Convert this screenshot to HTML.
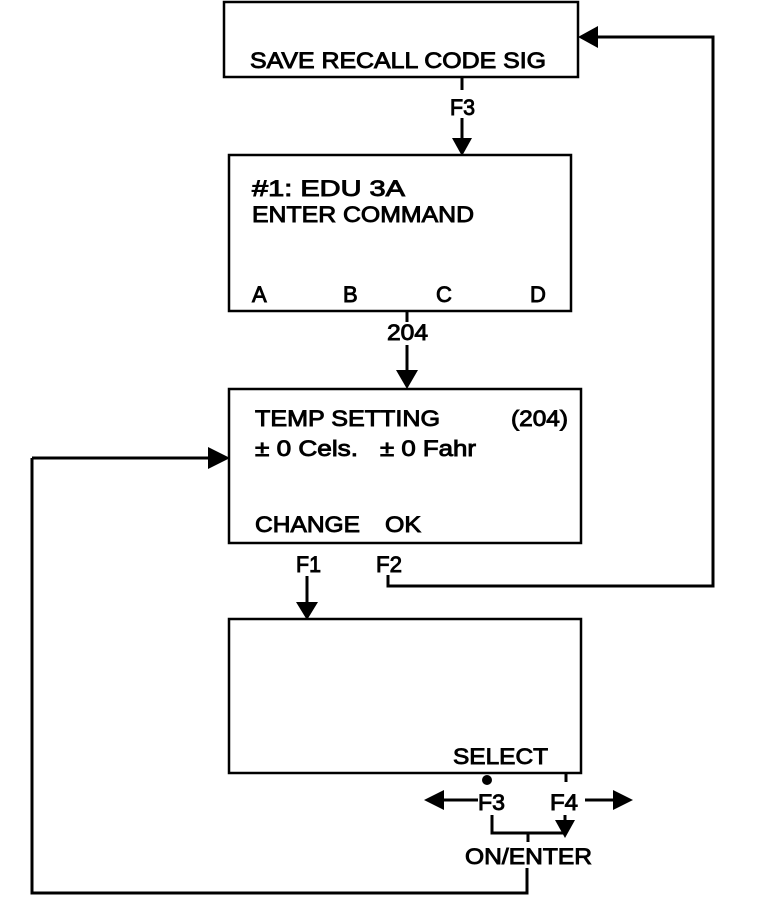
<!DOCTYPE html>
<html><head><meta charset="utf-8"><style>
html,body{margin:0;padding:0;background:#fff}
svg{display:block}
text{font-family:"Liberation Sans",Arial,sans-serif;font-size:22px;fill:#000;stroke:#000;stroke-width:0.9}
</style></head><body>
<svg width="768" height="912" viewBox="0 0 768 912" xmlns="http://www.w3.org/2000/svg">
<g fill="none" stroke="#000" stroke-width="2.5">
<rect x="224" y="2" width="354" height="75"/>
<rect x="229" y="155" width="342" height="156"/>
<rect x="229" y="389" width="352" height="154"/>
<rect x="229" y="619" width="352" height="154"/>
</g>
<g fill="none" stroke="#000" stroke-width="3">
<line x1="462" y1="77" x2="462" y2="90"/>
<line x1="462" y1="118" x2="462" y2="140"/>
<line x1="407" y1="311" x2="407" y2="322"/>
<line x1="407" y1="345" x2="407" y2="372"/>
<polyline points="32,458 32,893 527,893 527,868"/>
<line x1="32" y1="458" x2="210" y2="458"/>
<polyline points="388,575 388,586 713,586 713,37 596,37"/>
<line x1="307" y1="576" x2="307" y2="604"/>
<line x1="478" y1="800" x2="442" y2="800"/>
<line x1="585" y1="800" x2="615" y2="800"/>
<line x1="566" y1="773" x2="566" y2="782"/>
<polyline points="492,815 492,833 565,833"/>
<line x1="565" y1="815" x2="565" y2="822"/>
<line x1="528" y1="833" x2="528" y2="842"/>
</g>
<g fill="#000">
<polygon points="452,138 472,138 462,156"/>
<polygon points="396,370 418,370 407,389"/>
<polygon points="208,447 208,469 230,458"/>
<polygon points="598,26 598,48 578,37"/>
<polygon points="296,602 318,602 307,620"/>
<polygon points="444,790 444,810 424,800"/>
<polygon points="613,790 613,810 633,800"/>
<polygon points="555,820 575,820 565,838"/>
<circle cx="487" cy="780" r="5"/>
</g>
<text x="250" y="68" textLength="296" lengthAdjust="spacingAndGlyphs">SAVE RECALL CODE SIG</text>
<text x="450" y="115" textLength="25" lengthAdjust="spacingAndGlyphs">F3</text>
<text x="252" y="196" textLength="153" lengthAdjust="spacingAndGlyphs">#1: EDU 3A</text>
<text x="252" y="222" textLength="222" lengthAdjust="spacingAndGlyphs">ENTER COMMAND</text>
<text x="252" y="302">A</text>
<text x="343" y="302">B</text>
<text x="436" y="302">C</text>
<text x="530" y="302">D</text>
<text x="387" y="340" textLength="41" lengthAdjust="spacingAndGlyphs">204</text>
<text x="255" y="426" textLength="185" lengthAdjust="spacingAndGlyphs">TEMP SETTING</text>
<text x="511" y="426" textLength="57" lengthAdjust="spacingAndGlyphs">(204)</text>
<text x="255" y="456" textLength="103" lengthAdjust="spacingAndGlyphs">± 0 Cels.</text>
<text x="380" y="456" textLength="96" lengthAdjust="spacingAndGlyphs">± 0 Fahr</text>
<text x="255" y="532" textLength="105" lengthAdjust="spacingAndGlyphs">CHANGE</text>
<text x="385" y="532" textLength="36" lengthAdjust="spacingAndGlyphs">OK</text>
<text x="296" y="572" textLength="25" lengthAdjust="spacingAndGlyphs">F1</text>
<text x="376" y="572" textLength="26" lengthAdjust="spacingAndGlyphs">F2</text>
<text x="453" y="764" textLength="95" lengthAdjust="spacingAndGlyphs">SELECT</text>
<text x="478" y="810" textLength="27" lengthAdjust="spacingAndGlyphs">F3</text>
<text x="550" y="810" textLength="28" lengthAdjust="spacingAndGlyphs">F4</text>
<text x="465" y="864" textLength="127" lengthAdjust="spacingAndGlyphs">ON/ENTER</text>
</svg>
</body></html>
